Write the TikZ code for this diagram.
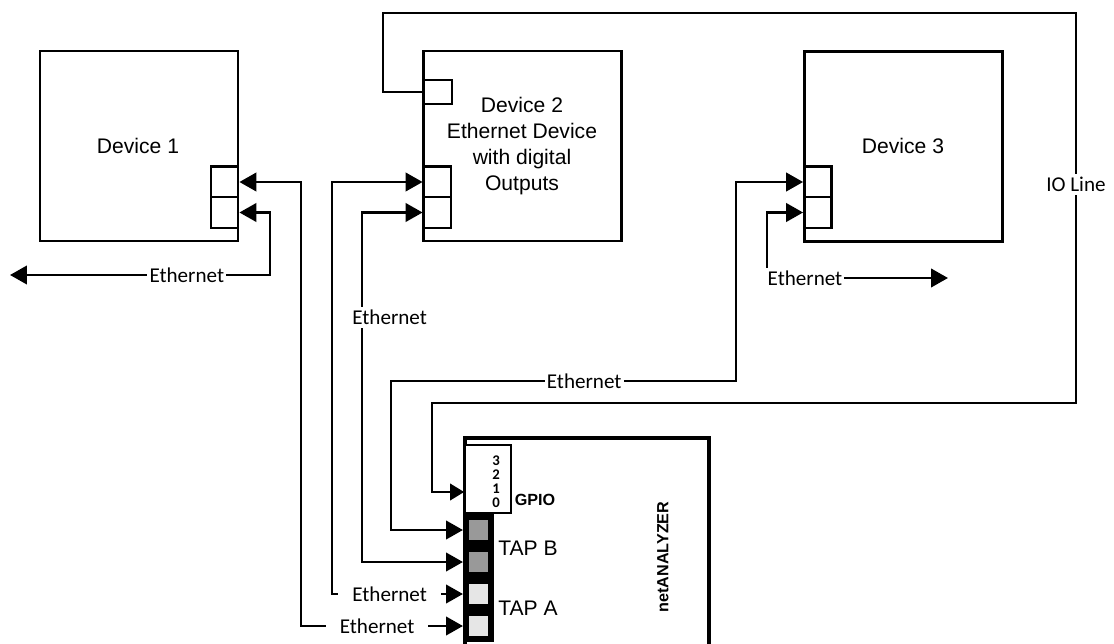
\documentclass[tikz,border=0pt]{standalone}
\usepackage{fontspec}
\setmainfont{Liberation Sans}
\newfontfamily\NetLabelFamily{Carlito}
\usepackage{tikz}
\usetikzlibrary{arrows.meta,calc}
\definecolor{tapBcolor}{HTML}{999999}
\definecolor{tapAcolor}{HTML}{E6E6E6}
\newcommand{\NetDeviceFont}{\fontsize{15pt}{18.5pt}\selectfont}
\newcommand{\NetLineFont}{\NetLabelFamily\fontsize{15pt}{18pt}\selectfont}
\newcommand{\NetSmallFont}{\fontsize{11.5pt}{13pt}\selectfont\bfseries}
\newcommand{\NetPinFont}{\NetLabelFamily\fontsize{10.5pt}{10pt}\selectfont\bfseries}
\tikzset{
  devbox/.style={
    draw, line width=2pt, inner sep=0,
    minimum width=4.95cm, minimum height=4.75cm
  },
  devport/.style={
    draw, fill=white, line width=2pt, inner sep=0,
    minimum width=0.675cm, minimum height=0.775cm
  },
  ioport/.style={
    draw, fill=white, line width=1pt, inner sep=0,
    minimum width=0.7cm, minimum height=0.6cm
  },
  analyzer/.style={
    draw, line width=3.2pt, inner sep=0,
    minimum width=6.1cm, minimum height=5.35cm
  },
  gpiobox/.style={
    draw, fill=white, line width=1.3pt, inner sep=0,
    minimum width=1.15cm, minimum height=1.7cm
  },
  tapport/.style={
    draw, line width=4pt, inner sep=0,
    minimum width=0.635cm, minimum height=0.66cm
  },
  eth/.style={
    line width=2pt,
    {Triangle[length=12pt,width=13pt]}-{Triangle[length=12pt,width=13pt]}
  },
  ioline/.style={line width=1pt, -{Triangle[length=10pt,width=12pt]}},
  ethlabel/.style={fill=white, font=\NetLineFont, inner xsep=1.5pt, inner ysep=2pt},
  ethgap/.style={ethlabel, inner xsep=10pt},
  iolabel/.style={fill=white, font=\NetLineFont, inner sep=2pt}
}

\begin{document}
\begin{tikzpicture}[x=0.025cm, y=-0.025cm]
  \useasboundingbox (0,0) rectangle (1114,644);

  % devices
  \node[devbox] (dev1) at (139,146) {};
  \node[devbox] (dev2) at (522.5,146) {};
  \node[devbox] (dev3) at (903.5,146.5) {};
  \node[font=\NetDeviceFont] (dev1label) at (138,146) {Device 1};
  \node[font=\NetDeviceFont, align=center] (dev2label) at (522,146)
    {Device 2\\Ethernet Device\\with digital\\Outputs};
  \node[font=\NetDeviceFont] (dev3label) at (903,146) {Device 3};

  \node[devport] (d1p1) at (224.5,182) {};
  \node[devport] (d1p2) at (224.5,212.5) {};
  \node[devport] (d2p1) at (437.5,182) {};
  \node[devport] (d2p2) at (437.5,212.5) {};
  \node[devport] (d3p1) at (818,182) {};
  \node[devport] (d3p2) at (818,212.5) {};
  \node[ioport] (d2io) at (438,92) {};

  % netANALYZER
  \node[analyzer] (ana) at (587,545) {};
  \node[gpiobox] (gpio) at (488,479) {};
  \node[tapport, fill=tapBcolor] (tapB1) at (478.5,530) {};
  \node[tapport, fill=tapBcolor] (tapB2) at (478.5,562) {};
  \node[tapport, fill=tapAcolor] (tapA1) at (478.5,594) {};
  \node[tapport, fill=tapAcolor] (tapA2) at (478.5,626) {};
  \node[font=\NetPinFont, align=center] (gpiopins) at (496,482) {3\\2\\1\\0};
  \node[font=\NetSmallFont] (gpiolabel) at (535,500) {GPIO};
  \node[font=\NetDeviceFont, anchor=west, inner sep=0] (tapBlabel) at (498,548) {TAP B};
  \node[font=\NetDeviceFont, anchor=west, inner sep=0] (tapAlabel) at (498,608) {TAP A};
  \node[font=\NetSmallFont, rotate=90] (analabel) at (663,557) {netANALYZER};

  \coordinate (d1out) at (10,275);
  \coordinate (d3out) at (948,278);

  % ethernet lines
  \draw[eth] (d1p1.east) -| (301,626)
    -- node[ethgap, pos=0.47] (lblA2) {Ethernet} (tapA2.west);
  \draw[eth] (d1p2.east) -| (270,275)
    -- node[ethlabel, pos=0.32] (lblD1) {Ethernet} (d1out);
  \draw[eth] (d2p1.west) -| (332,594)
    -- node[ethgap, pos=0.44] (lblA1) {Ethernet} (tapA1.west);
  \draw[eth] (d2p2.west) -| node[ethlabel, pos=0.65, xshift=0.69cm] (lblB2) {Ethernet}
    (362,562) -- (tapB2.west);
  \draw[eth] (d3p1.west) -| (736,381)
    -| node[ethlabel, pos=0.22] (lblB1) {Ethernet} (391,530) -- (tapB1.west);
  \draw[eth] (d3p2.west) -| (767,278)
    -- node[ethlabel, pos=0.21] (lblD3) {Ethernet} (d3out);

  % io line
  \draw[ioline] (d2io.west) -| (383,13)
    -| node[iolabel, pos=0.72] (lblIO) {IO Line} (1076,403)
    -| (432,492) -- (gpio.west |- 0,492);
\end{tikzpicture}
\end{document}
